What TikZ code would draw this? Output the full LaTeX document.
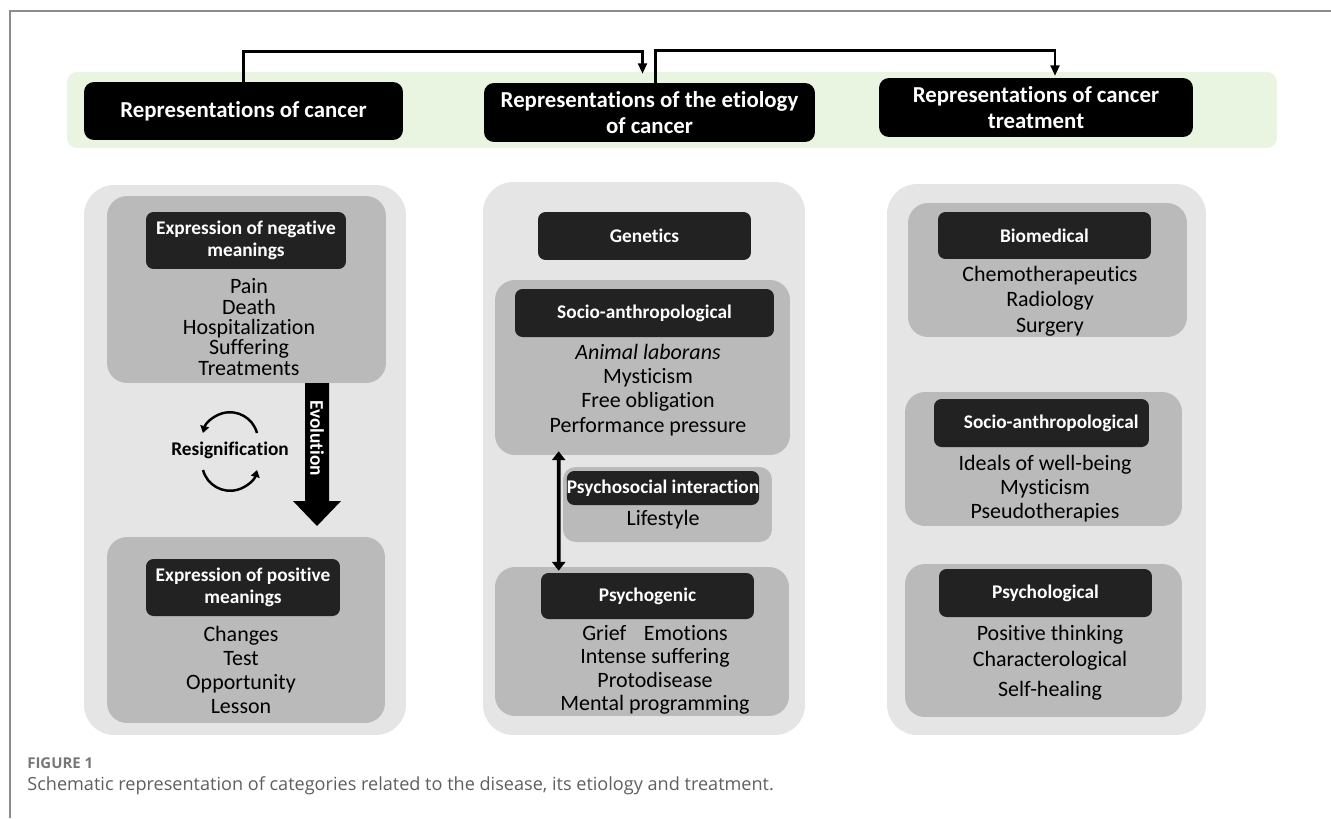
\documentclass[tikz,border=0pt]{standalone}
\usepackage{fontspec}
\setmainfont{Carlito}[Ligatures=CommonOff]
\newfontfamily\capfont{Open Sans}
\usepackage{tikz}
\usetikzlibrary{arrows.meta,calc}

\definecolor{bandgreen}{RGB}{234,245,225}
\definecolor{panelgray}{RGB}{229,229,229}
\definecolor{groupgray}{RGB}{186,186,186}
\definecolor{taggray}{RGB}{34,34,34}
\definecolor{framegray}{RGB}{140,140,140}
\definecolor{capgray}{RGB}{95,95,95}

\begin{document}
\begin{tikzpicture}[x=0.02cm, y=-0.02cm,
    band/.style={fill=bandgreen, rounded corners=0.2cm, inner sep=0pt},
    head/.style={fill=black, text=white, rounded corners=0.2cm, inner sep=0pt, align=center,
      font=\fontsize{13}{14.7}\selectfont\bfseries},
    panel/.style={fill=panelgray, rounded corners=0.6cm, inner sep=0pt},
    group/.style={fill=groupgray, rounded corners=0.4cm, inner sep=0pt},
    tag/.style={fill=taggray, text=white, rounded corners=0.15cm, inner sep=0pt, align=center,
      font=\fontsize{11}{12.5}\selectfont\bfseries},
    items/.style={align=center, inner sep=0pt, font=\fontsize{12.5}{#1}\selectfont},
    items/.default=13.8,
    conn/.style={line width=1.5pt, -{Triangle[width=5pt,length=6pt]}},
    dbl/.style={line width=2.2pt, {Triangle[width=7.5pt,length=5pt]}-{Triangle[width=7.5pt,length=5pt]}},
    cyc/.style={line width=1.4pt, -{Triangle[width=5pt,length=4pt]}}
  ]

    \useasboundingbox (0,0) rectangle (1331,818);
    \draw[framegray, line width=0.8pt] (10,818) -- (10,11) -- (1331,11);

    % top row
    \node[band, minimum width=24.2cm, minimum height=1.52cm] (band) at (672,110) {};
    \node[head, minimum width=6.38cm, minimum height=1.16cm] (h1) at (243.5,111) {Representations of cancer};
    \node[head, minimum width=6.62cm, minimum height=1.18cm] (h2) at (649.5,112.5) {Representations of the etiology\\of cancer};
    \node[head, minimum width=6.28cm, minimum height=1.18cm] (h3) at (1036,107.5) {Representations of cancer\\treatment};

    \draw[conn, shorten >=5pt] (h1.north) -- ++(0,-30) -| ($(h2.north)+(-7,0)$);
    \draw[conn, shorten >=1pt] ($(h2.north)+(6,0)$) -- ++(0,-32) -| ($(h3.north)+(19,0)$);

    % cancer
    \node[panel, minimum width=6.44cm, minimum height=11cm] (pcancer) at (245,460) {};
    \node[group, minimum width=5.58cm, minimum height=3.74cm] (gneg) at (246.5,289.5) {};
    \node[tag, minimum width=4cm, minimum height=1.14cm] (tneg) at (246,240.5) {Expression of negative\\meanings};
    \node[items=11.6] (lneg) at (249,327) {Pain\\Death\\Hospitalization\\Suffering\\Treatments};

    \node[group, minimum width=5.56cm, minimum height=3.72cm] (gpos) at (246,630) {};
    \node[tag, minimum width=3.88cm, minimum height=1.14cm] (tpos) at (243,587.5) {Expression of positive\\meanings};
    \node[items] (lpos) at (241,670) {Changes\\Test\\Opportunity\\Lesson};

    \fill[black] (305,383) -- (329,383) -- (329,501) -- (341,501) -- (317,526)
      -- (293,501) -- (305,501) -- cycle;
    \node[rotate=-90, text=white, inner sep=0pt, font=\fontsize{11}{13}\selectfont\bfseries]
      (evol) at (317,438) {Evolution};

    \node[inner sep=0pt, font=\fontsize{11}{13}\selectfont\bfseries] (resig) at (230,450) {Resignification};
    \draw[cyc] ($(resig.center)+(27,-17)$) arc[start angle=15, end angle=165, radius=0.56cm];
    \draw[cyc] ($(resig.center)+(-27,20)$) arc[start angle=195, end angle=345, radius=0.56cm];

    % etiology
    \node[panel, minimum width=6.44cm, minimum height=11.06cm] (petio) at (644,458.5) {};
    \node[tag, minimum width=4.26cm, minimum height=0.96cm] (tgen) at (644.5,236) {Genetics};

    \node[group, minimum width=5.9cm, minimum height=3.5cm] (gmsoc) at (642.5,367.5) {};
    \node[tag, minimum width=5.18cm, minimum height=0.96cm] (tmsoc) at (644.5,313) {Socio-anthropological};
    \node[items=13.8] (lmsoc) at (648,390) {\itshape Animal laborans\\Mysticism\\Free obligation\\Performance pressure};

    \node[group, rounded corners=0.25cm, minimum width=4.18cm, minimum height=1.5cm] (gpsoc) at (667.5,504.5) {};
    \node[tag, minimum width=3.84cm, minimum height=0.68cm] (tpsoc) at (663,488) {Psychosocial interaction};
    \node[items] (lpsoc) at (663,520) {Lifestyle};

    \node[group, minimum width=5.88cm, minimum height=2.98cm] (gmpsy) at (642,641.5) {};
    \node[tag, minimum width=4.26cm, minimum height=0.92cm] (tmpsy) at (647.5,596) {Psychogenic};
    \node[items=13.4] (lmpsy) at (655,670) {Grief\hspace{0.8em}Emotions\\Intense suffering\\Protodisease\\Mental programming};

    \draw[dbl] ($(gmsoc.south west)+(64,-4)$) -- ($(gmpsy.north west)+(64,4)$);

    % treatment
    \node[panel, minimum width=6.38cm, minimum height=11.02cm] (ptreat) at (1046.5,459.5) {};

    \node[group, minimum width=5.58cm, minimum height=2.68cm] (gbio) at (1047.5,270) {};
    \node[tag, minimum width=4.26cm, minimum height=0.94cm] (tbio) at (1044.5,235.5) {Biomedical};
    \node[items=14.5] (lbio) at (1050,301) {Chemotherapeutics\\Radiology\\Surgery};

    \node[group, minimum width=5.54cm, minimum height=2.68cm] (grsoc) at (1043.5,459) {};
    \node[tag, minimum width=4.3cm, minimum height=0.96cm] (trsoc) at (1041.5,423) {\hspace{1em}Socio-anthropological};
    \node[items=13.6] (lrsoc) at (1045,489) {Ideals of well-being\\Mysticism\\Pseudotherapies};

    \node[group, minimum width=5.54cm, minimum height=3.06cm] (grpsy) at (1043.5,640.5) {};
    \node[tag, minimum width=4.26cm, minimum height=0.96cm] (trpsy) at (1045.5,593) {Psychological};
    \node[items=14.8] (lrpsy) at (1050,663) {Positive thinking\\Characterological\\[2pt]Self-healing};

    % caption
    \node[anchor=west, inner sep=0pt, text=capgray!85, font=\capfont\fontsize{8.5}{10}\selectfont\bfseries]
      (figlab) at (27,763) {FIGURE 1};
    \node[anchor=west, inner sep=0pt, text=capgray, font=\capfont\fontsize{10.3}{12}\selectfont]
      (figcap) at (27,786) {Schematic representation of categories related to the disease, its etiology and treatment.};

  \end{tikzpicture}
\end{document}
